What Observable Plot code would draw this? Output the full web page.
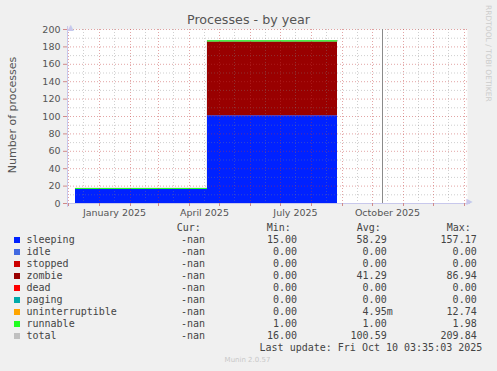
<!DOCTYPE html>
<html><head><meta charset="utf-8">
<script src="https://cdn.jsdelivr.net/npm/d3@7"></script>
<script src="https://cdn.jsdelivr.net/npm/@observablehq/plot@0.6"></script>
<style>
html,body{margin:0;padding:0;background:#f0f0f0;}
#wrap{position:relative;width:497px;height:371px;overflow:hidden;background:#f0f0f0;font-family:"DejaVu Sans",sans-serif;}
#chart{position:absolute;left:0;top:0;}
.title{position:absolute;left:0;width:497px;top:12px;text-align:center;font-size:12.7px;line-height:16px;color:#555;}
.ylab{position:absolute;left:12px;top:115px;transform:translate(-50%,-50%) rotate(-90deg);font-size:11px;line-height:13px;color:#555;white-space:nowrap;}
.rrd{position:absolute;left:484px;top:5px;writing-mode:vertical-rl;font-size:7.5px;line-height:8px;color:#ccc;white-space:nowrap;}
.leg{position:absolute;font-family:"DejaVu Sans Mono",monospace;font-size:10px;line-height:12px;color:#444;white-space:pre;}
.sw{position:absolute;width:6px;height:6px;}
.munin{position:absolute;left:0;width:495px;top:355px;text-align:center;font-size:7px;line-height:10px;color:#c8c8c8;}
</style>
</head><body>
<div id="wrap"></div>
<script>
// ---- data ----
const series = ["sleeping","idle","stopped","zombie","dead","paging","uninterruptible","runnable"];
const colors = ["#0022ff","#4169e1","#cc0000","#990000","#ff0000","#00aaaa","#ffa500","#22ff22"];
const dates = ["2024-12-08","2025-04-19","2025-08-27"];
const sleeping = [16, 101, 101];
const idle = [0, 0, 0];
const stopped = [0, 0, 0];
const zombie = [0, 84.5, 84.5];
const dead = [0, 0, 0];
const paging = [0, 0, 0];
const uninterruptible = [0, 0, 0];
const runnable = [1.3, 1.5, 1.5];
const total = [17.3, 187, 187];
const nowDate = ["2025-10-11"];

const legendNames = ["sleeping","idle","stopped","zombie","dead","paging","uninterruptible","runnable","total"];
const legendColors = ["#0022ff","#4169e1","#cc0000","#990000","#ff0000","#00aaaa","#ffa500","#22ff22","#c0c0c0"];
const curVals = ["-nan","-nan","-nan","-nan","-nan","-nan","-nan","-nan","-nan"];
const minVals = ["15.00","0.00","0.00","0.00","0.00","0.00","0.00","1.00","16.00"];
const avgVals = ["58.29 ","0.00 ","0.00 ","41.29 ","0.00 ","0.00 ","4.95m","1.00 ","100.59 "];
const maxVals = ["157.17","0.00","0.00","86.94","0.00","0.00","12.74","1.98","209.84"];

const yMajor = [0,20,40,60,80,100,120,140,160,180,200];
const yMinor = [10,30,50,70,90,110,130,150,170,190];
const xLabelDates = ["2025-01-16","2025-04-16","2025-07-16","2025-10-16"];
const xDomain = ["2024-11-30","2026-01-04"];

// ---- build ----
const P = s => new Date(s + "T00:00:00Z");
const seriesVals = {sleeping, idle, stopped, zombie, dead, paging, uninterruptible, runnable};
const rows = [];
for (const s of series) dates.forEach((d, i) => rows.push({date: P(d), series: s, value: seriesVals[s][i]}));
const totalRows = dates.map((d, i) => ({date: P(d), value: total[i]}));
const monthStarts = d3.utcMonth.range(P("2024-12-01"), P("2026-01-02"));
const midMonths = monthStarts.map(d => d3.utcDay.offset(d, 15)).filter(d => d < P(xDomain[1]));

const gridGray = {stroke: "#808080", strokeOpacity: 0.38, strokeDasharray: "1,2"};
const gridRed = {stroke: "#c03838", strokeOpacity: 0.45, strokeDasharray: "1,2"};
const axisColor = "#c8c8ec";

const chart = Plot.plot({
  width: 497, height: 222,
  marginTop: 29, marginBottom: 19, marginLeft: 67, marginRight: 30,
  style: {background: "transparent", fontFamily: "DejaVu Sans", fontSize: "9.5px", color: "#555", overflow: "visible"},
  x: {type: "utc", domain: xDomain.map(P)},
  y: {domain: [0, 200]},
  color: {domain: series, range: colors},
  marks: [
    Plot.frame({fill: "white", stroke: null}),
    Plot.lineY(totalRows, {x: "date", y: "value", stroke: "#c0c0c0", curve: "step-after"}),
    Plot.areaY(rows, {x: "date", y: "value", z: "series", fill: "series", curve: "step-after"}),
    Plot.ruleY(yMinor, {...gridGray}),
    Plot.ruleY(yMajor.filter(v => v > 0), {...gridRed}),
    Plot.ruleX(midMonths, {...gridGray}),
    Plot.ruleX(monthStarts, {...gridRed}),
    Plot.ruleX(nowDate.map(P), {y1: 0, y2: 200, stroke: "#8a8a8a", strokeWidth: 1}),
    Plot.ruleY([0], {stroke: axisColor, insetRight: -3, insetLeft: -4}),
    Plot.ruleX([P(xDomain[0])], {stroke: axisColor, insetTop: -3, insetBottom: -4}),
    Plot.axisY({ticks: yMajor, tickSize: 4, tickPadding: 3, stroke: "#d08a8a", fill: "#555", label: null}),
    Plot.axisX({ticks: monthStarts, tickSize: 3, tickFormat: () => "", stroke: "#d08a8a", label: null}),
    Plot.axisX({ticks: xLabelDates.map(P), tickSize: 0, tickPadding: 6, tickFormat: d3.utcFormat("%B %Y"), fill: "#555", label: null}),
    Plot.text(["\u25B2"], {frameAnchor: "top-left", text: d => d, dy: -5, fill: axisColor, fontSize: 8}),
    Plot.text(["\u25B6"], {frameAnchor: "bottom-right", text: d => d, dx: 5, fill: axisColor, fontSize: 8})
  ]
});
chart.id = "chart";
const wrap = document.getElementById("wrap");
wrap.appendChild(chart);

function add(cls, text, css) {
  const el = document.createElement("div");
  el.className = cls;
  if (text != null) el.textContent = text;
  Object.assign(el.style, css || {});
  wrap.appendChild(el);
  return el;
}
add("title", "Processes - by year");
add("ylab", "Number of processes");
add("rrd", "RRDTOOL / TOBI OETIKER");

// legend header
const headTop = 222.3;
add("leg", "Cur:", {left: "176.7px", top: headTop + "px"});
add("leg", "Min:", {left: "266.7px", top: headTop + "px"});
add("leg", "Avg:", {left: "356.7px", top: headTop + "px"});
add("leg", "Max:", {left: "446.7px", top: headTop + "px"});

legendNames.forEach((name, i) => {
  const top = 233.9 + 12 * i;
  add("sw", null, {left: "14px", top: (top + 3.4) + "px", background: legendColors[i]});
  add("leg", name, {left: "26.5px", top: top + "px"});
  add("leg", curVals[i], {right: "292px", top: top + "px", textAlign: "right"});
  add("leg", minVals[i], {right: "200px", top: top + "px", textAlign: "right"});
  add("leg", avgVals[i], {right: "104.3px", top: top + "px", textAlign: "right"});
  add("leg", maxVals[i], {right: "20.3px", top: top + "px", textAlign: "right"});
});
add("leg", "Last update: Fri Oct 10 03:35:03 2025", {right: "14.7px", top: "341.7px", textAlign: "right"});
add("munin", "Munin 2.0.57");
</script>
</body></html>
